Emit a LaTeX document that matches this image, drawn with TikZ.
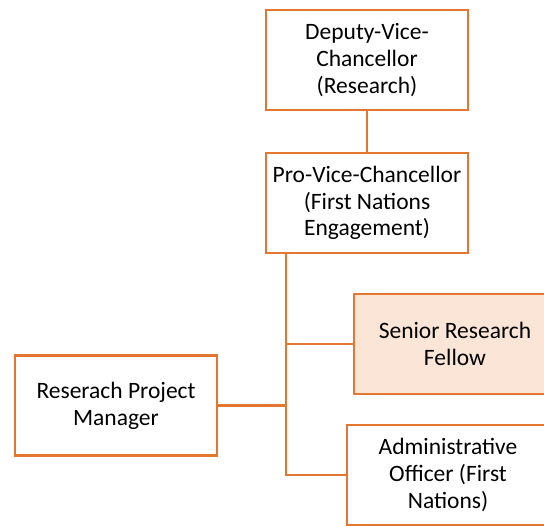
\documentclass[tikz,border=0pt]{standalone}
\usepackage{fontspec}
\setmainfont{Carlito}
\definecolor{rim}{RGB}{228,119,48}
\definecolor{peach}{HTML}{FBE5D6}
\begin{document}
\begin{tikzpicture}[x=1pt,y=1pt,
  post/.style={draw=rim, line width=2.4pt, fill=white, minimum width=202pt, minimum height=100pt,
    inner sep=0pt, align=center, font=\fontsize{23.5}{26.8}\selectfont},
  link/.style={draw=rim, line width=2.4pt}]
\useasboundingbox (0,0) rectangle (544,526);
\clip (0,0) rectangle (544,526);
\node[post] (dvc) at (367,466) {Deputy-Vice-\\Chancellor\\(Research)};
\node[post] (pvc) at (367,323) {Pro-Vice-Chancellor\\(First Nations\\Engagement)};
\node[post, fill=peach] (srf) at (455,182) {Senior Research\\Fellow};
\node[post] (rpm) at (116,120.5) {Reserach Project\\Manager};
\node[post] (ao) at (448,51) {Administrative\\Officer (First\\Nations)};
\coordinate (top) at (286,0 |- pvc.south);
\coordinate (bot) at (286,0 |- ao.west);
\draw[link] (dvc) -- (pvc);
\draw[link] (top) -- (bot) -- (ao.west);
\draw[link] (srf.west) -- (srf.west -| top);
\draw[link] (rpm.east) -- (rpm.east -| top);
\end{tikzpicture}
\end{document}
